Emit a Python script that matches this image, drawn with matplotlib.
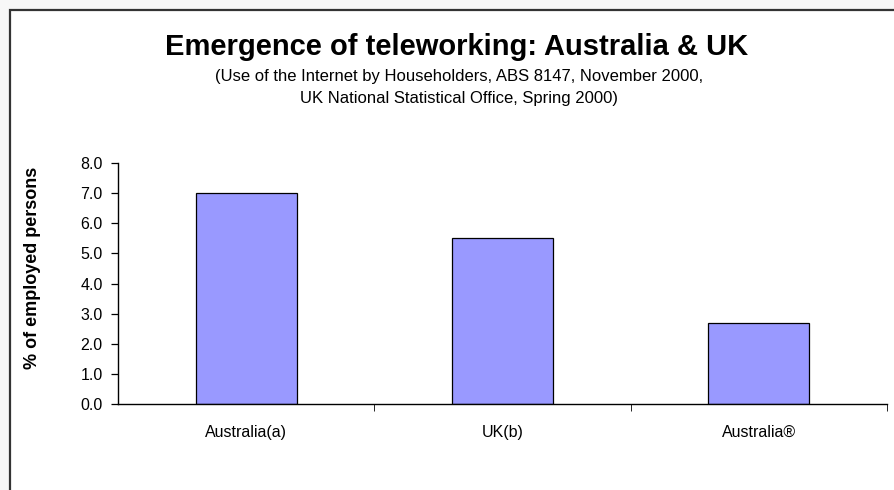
import matplotlib
matplotlib.use("Agg")
import matplotlib.pyplot as plt
from matplotlib.patches import Rectangle

categories = ["Australia(a)", "UK(b)", "Australia\u00ae"]
values = [7.0, 5.5, 2.7]
yticks = [0.0, 1.0, 2.0, 3.0, 4.0, 5.0, 6.0, 7.0, 8.0]

plt.rcParams['font.family'] = ['Liberation Sans', 'DejaVu Sans']

fig = plt.figure(figsize=(8.94, 4.90), dpi=100)
fig.patch.set_facecolor('#f7f7f7')

# chart area frame (runs off the right and bottom edge)
frame = Rectangle((10 / 894, -0.05), 1.0, 1 - 10 / 490 + 0.05, transform=fig.transFigure,
                  facecolor='white', edgecolor='#333333', linewidth=1.6, zorder=-5)
fig.patches.append(frame)

ax = fig.add_axes([118 / 894, 86 / 490, 769 / 894, 241 / 490])
ax.set_facecolor('none')

x = range(len(categories))
ax.bar(x, values, width=0.395, color='#9999ff', edgecolor='black', linewidth=0.9)

ax.set_xlim(-0.5, 2.5)
ax.set_ylim(0, 8)
ax.set_yticks(yticks)
ax.set_yticklabels([f"{v:.1f}" for v in yticks], fontsize=11.5)
ax.set_xticks(list(x))
ax.set_xticklabels(categories, fontsize=11.5)
ax.tick_params(axis='x', length=0, pad=15)
ax.set_xticks([0.5, 1.5, 2.5], minor=True)
ax.tick_params(axis='x', which='minor', length=5, direction='out')
ax.tick_params(axis='y', length=5, direction='out', width=0.9, pad=6)

for s in ['top', 'right']:
    ax.spines[s].set_visible(False)
for s in ['left', 'bottom']:
    ax.spines[s].set_linewidth(1.0)

ax.set_ylabel("% of employed persons", fontsize=13, fontweight='bold', va='center')
ax.yaxis.set_label_coords(-85 / 769, 0.564)

fig.text(457 / 894, 1 - 55 / 490, "Emergence of teleworking: Australia & UK",
         ha='center', va='baseline', fontsize=21, fontweight='bold')
fig.text(459 / 894, 1 - 81 / 490, "(Use of the Internet by Householders, ABS 8147, November 2000,",
         ha='center', va='baseline', fontsize=12)
fig.text(459 / 894, 1 - 103 / 490, "UK National Statistical Office, Spring 2000)",
         ha='center', va='baseline', fontsize=12)

fig.savefig("out.png", dpi=100, facecolor=fig.get_facecolor())
